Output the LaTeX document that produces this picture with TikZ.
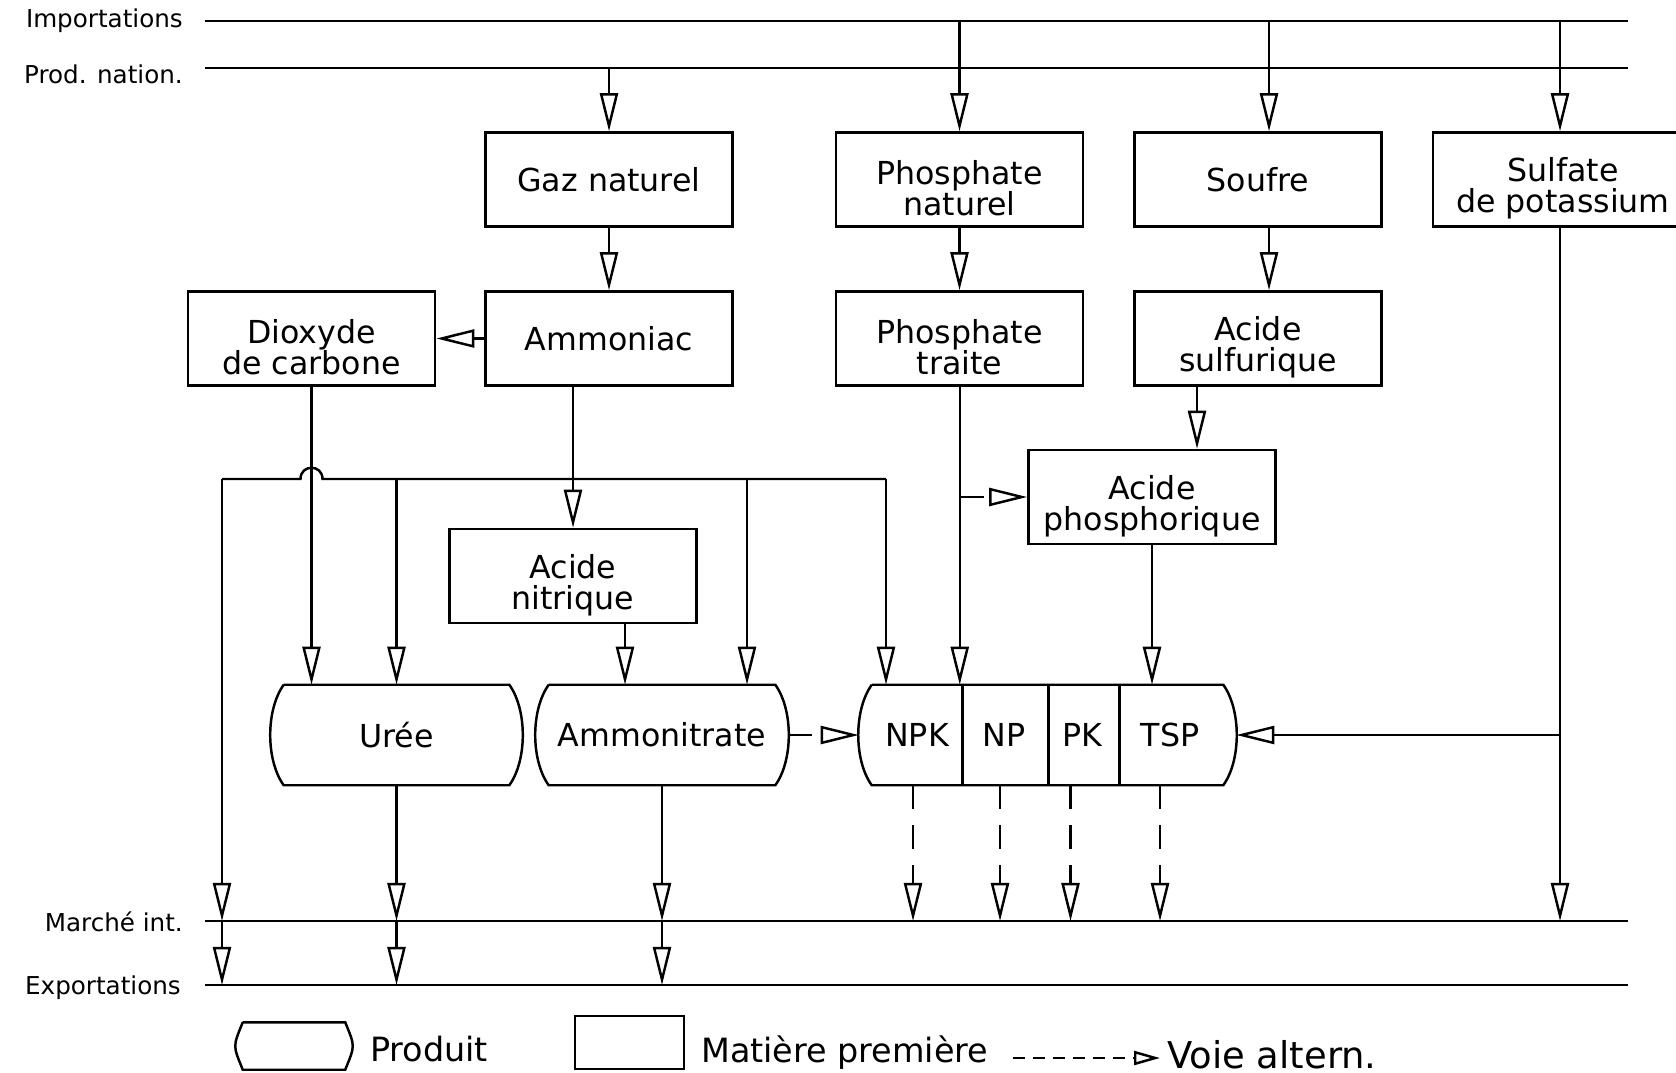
\documentclass[tikz,border=0pt]{standalone}
\usepackage{fontspec}
\setmainfont{DejaVu Sans}
\usepackage{tikz}
\usetikzlibrary{arrows.meta, calc}

\newcommand{\produit}[3]{%
  \draw (#1.north west) -- (#2.north east)
    .. controls ($(#2.north east)+(#3,25)$) and ($(#2.south east)+(#3,-25)$) .. (#2.south east)
    -- (#1.south west)
    .. controls ($(#1.south west)+(-#3,-25)$) and ($(#1.north west)+(-#3,25)$) .. (#1.north west);}
\newcommand{\bas}[1]{\raisebox{-2.5pt}[\height][\depth]{#1}}

\begin{document}
\begin{tikzpicture}[x=0.01cm, y=-0.01cm, line width=0.7pt,
    mp/.style={draw, rectangle, minimum width=2.47cm, minimum height=0.94cm, inner sep=0pt, align=center, font=\fontsize{9}{8.8}\selectfont},
    prod/.style={rectangle, minimum height=0.98cm, inner sep=0pt, font=\fontsize{9}{8.8}\selectfont},
    lbl/.style={anchor=east, inner sep=0pt, font=\fontsize{7}{8}\selectfont},
    txt/.style={anchor=west, inner sep=0pt, font=\fontsize{9.5}{10}\selectfont},
    fl/.style={-{Triangle[open, length=3.8mm, width=1.8mm]}},
    alt/.style={fl, dash pattern=on 2.4mm off 1.6mm}]
    \useasboundingbox (0,0) rectangle (1676,1073);
    \clip (0,0) rectangle (1676,1073);

    \node[lbl] (imp) at (184, 21) {Importations};
    \node[lbl] (pna) at (184, 74) {Prod. nation.};
    \node[lbl] (mar) at (184, 922) {Marché int.};
    \node[lbl] (exp) at (182, 988) {Exportations};
    \foreach \n/\y in {imp/21, pna/68, mar/921, exp/985} {
        \coordinate (\n-l) at (205, \y);
        \coordinate (\n-r) at (1628, \y);
        \draw (\n-l) -- (\n-r);
    }

    \node[mp] (gaz) at (609, 179.5) {Gaz naturel};
    \node[mp] (phn) at (959.5, 179.5) {\bas{Phosphate}\\\bas{naturel}};
    \node[mp] (sou) at (1258, 179.5) {Soufre};
    \node[mp, minimum width=2.6cm] (sul) at (1563, 179.5) {\bas{Sulfate}\\\bas{de potassium}};
    \node[mp] (dio) at (311.5, 338.5) {\bas{Dioxyde}\\\bas{de carbone}};
    \node[mp] (amm) at (609, 338.5) {Ammoniac};
    \node[mp] (pht) at (959.5, 338.5) {\bas{Phosphate}\\\bas{traite}};
    \node[mp] (acs) at (1258, 338.5) {\bas{Acide}\\\bas{sulfurique}};
    \node[mp] (acp) at (1152, 497) {\bas{Acide}\\\bas{phosphorique}};
    \node[mp] (acn) at (573, 576) {\bas{Acide}\\\bas{nitrique}};

    \node[prod, minimum width=2.23cm] (uree) at (396.5, 735) {Urée};
    \node[prod, minimum width=2.24cm] (amt) at (662, 735) {Ammonitrate};
    \node[prod, minimum width=0.88cm] (npk) at (917, 735) {NPK};
    \node[prod, minimum width=0.86cm] (np) at (1004, 735) {NP};
    \node[prod, minimum width=0.71cm] (pk) at (1082.5, 735) {PK};
    \node[prod, minimum width=1.04cm] (tsp) at (1170, 735) {TSP};
    \produit{uree}{uree}{18}
    \produit{amt}{amt}{18}
    \produit{npk}{tsp}{18}
    \draw (npk.north east) -- (npk.south east)
          (np.north east) -- (np.south east)
          (pk.north east) -- (pk.south east);

    \coordinate (xs) at (1269, 0);
    \coordinate (xk) at (1560, 0);
    \coordinate (xa) at (1197, 0);
    \coordinate (xam) at (747, 0);
    \coordinate (xn) at (625, 0);
    \coordinate (bl) at (222, 479);
    \coordinate (br) at (886, 479);

    \draw[fl] (gaz.north |- pna-l) -- (gaz.north);
    \draw[fl] (phn.north |- imp-l) -- (phn.north);
    \draw[fl] (xs |- imp-l) -- (xs |- sou.north);
    \draw[fl] (xk |- imp-l) -- (xk |- sul.north);
    \draw[fl] (gaz) -- (amm);
    \draw[fl] (phn) -- (pht);
    \draw[fl] (xs |- sou.south) -- (xs |- acs.north);
    \draw[fl] (amm) -- (dio);
    \draw[fl] (xa |- acs.south) -- (xa |- acp.north);
    \draw[fl] (np.north west |- pht.south) -- (np.north west);
    \draw[alt] (np.north west |- acp.west) -- (acp.west);
    \draw[fl] (acp.south) -- (acp.south |- tsp.north);
    \draw[fl] (dio.south) -- (dio.south |- uree.north);
    \draw[fl] (acn.north |- amm.south) -- (acn.north);

    \draw (bl) -- ($(dio.south |- bl)+(-11,0)$)
        .. controls ($(dio.south |- bl)+(-11,-15)$) and ($(dio.south |- bl)+(11,-15)$) .. ($(dio.south |- bl)+(11,0)$)
        -- (br);
    \draw[fl] (bl) -- (bl |- mar-l);
    \draw[fl] (bl |- mar-l) -- (bl |- exp-l);
    \draw[fl] (uree.north |- bl) -- (uree.north);
    \draw[fl] (xam |- bl) -- (xam |- amt.north);
    \draw[fl] (br) -- (br |- npk.north);
    \draw[fl] (xn |- acn.south) -- (xn |- amt.north);

    \foreach \p in {uree, amt} {
        \draw[fl] (\p.south) -- (\p.south |- mar-l);
        \draw[fl] (\p.south |- mar-l) -- (\p.south |- exp-l);
    }
    \draw[alt] ($(amt.east)+(13,0)$) -- ($(npk.west)+(-13,0)$);
    \foreach \p/\d in {npk/-4, np/-4, pk/-12, tsp/-10}
        \draw[alt] ($(\p.south)+(\d,0)$) -- ($(\p.south |- mar-l)+(\d,0)$);
    \draw[fl] (xk |- sul.south) -- (xk |- mar-l);
    \draw[fl] (xk |- tsp.east) -- ($(tsp.east)+(13,0)$);

    \node[prod, minimum width=1.0cm, minimum height=0.45cm] (lgp) at (294, 1046) {};
    \produit{lgp}{lgp}{10}
    \node[txt] (lgpt) at (369, 1049) {Produit};
    \node[mp, minimum width=1.09cm, minimum height=0.53cm] (lgm) at (629.5, 1042.5) {};
    \node[txt] (lgmt) at (700, 1053) {Matière première};
    \coordinate (lga) at (1013, 1058);
    \coordinate (lgb) at (1160, 1058);
    \draw[dash pattern=on 1.2mm off 0.8mm, -{Triangle[open, length=2.6mm, width=1.4mm]}] (lga) -- (lgb);
    \node[txt, font=\fontsize{10.5}{11}\selectfont] (lgvt) at (1166, 1055) {Voie altern.};
\end{tikzpicture}
\end{document}
